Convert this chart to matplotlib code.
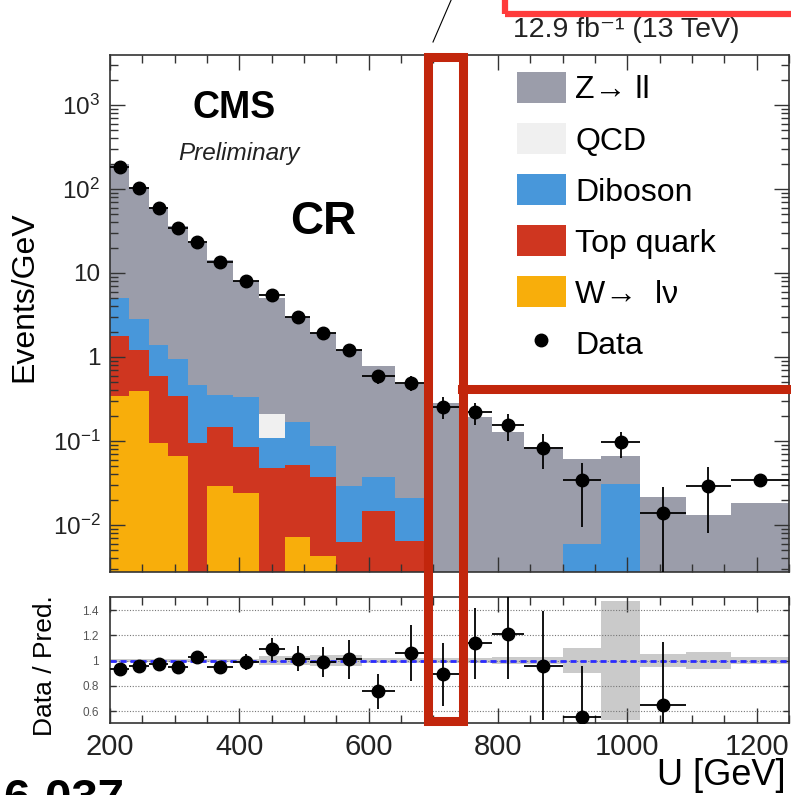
import numpy as np
import matplotlib
matplotlib.use('Agg')
import matplotlib.pyplot as plt
from matplotlib.patches import Rectangle, Patch
from matplotlib.lines import Line2D
from matplotlib.ticker import FixedLocator, FixedFormatter, LogLocator, NullFormatter, MultipleLocator

plt.rcParams['font.family'] = ['Liberation Sans', 'DejaVu Sans']
plt.rcParams['mathtext.fontset'] = 'custom'
plt.rcParams['mathtext.rm'] = 'Liberation Sans'
plt.rcParams['mathtext.it'] = 'Liberation Sans:italic'
plt.rcParams['mathtext.bf'] = 'Liberation Sans:bold'

# ---------------- data ----------------
bin_edges = [200, 230, 260, 290, 320, 350, 390, 430, 470, 510, 550, 590,
             640, 690, 740, 790, 840, 900, 960, 1020, 1090, 1160, 1250]

# process yields (Events/GeV), stacked bottom -> top
w_lnu   = [0.34, 0.39, 0.095, 0.066, 0.0, 0.029, 0.024, 0.0, 0.0072, 0.0043, 0.0,
           0.0, 0.0, 0.0, 0.0, 0.0, 0.0, 0.0, 0.0, 0.0, 0.0, 0.0]
top_q   = [1.44, 0.82, 0.495, 0.274, 0.095, 0.118, 0.061, 0.047, 0.0448, 0.0327, 0.0062,
           0.0148, 0.0065, 0.0, 0.0, 0.0, 0.0, 0.0, 0.0, 0.0, 0.0, 0.0]
diboson = [3.22, 1.62, 0.80, 0.61, 0.365, 0.203, 0.245, 0.062, 0.118, 0.05, 0.0228,
           0.0222, 0.0145, 0.0, 0.0, 0.0, 0.0, 0.006, 0.031, 0.0, 0.0, 0.0]
qcd     = [0.0, 0.0, 0.0, 0.0, 0.0, 0.0, 0.0, 0.101, 0.0, 0.0, 0.0,
           0.0, 0.0, 0.0, 0.0, 0.0, 0.0, 0.0, 0.0, 0.0, 0.0, 0.0]
z_ll    = [191.0, 103.2, 59.1, 34.85, 22.24, 13.85, 7.77, 4.84, 2.79, 1.863, 1.171,
           0.733, 0.449, 0.285, 0.194, 0.128, 0.085, 0.055, 0.035, 0.0215, 0.0132, 0.018]

data     = [182, 102, 59, 34, 23.4, 13.5, 8.0, 5.5, 3.0, 1.93, 1.21,
            0.59, 0.49, 0.255, 0.22, 0.155, 0.083, 0.034, 0.097, 0.014, 0.029, 0.034]
data_elo = [2.5, 1.8, 1.4, 1.06, 0.88, 0.58, 0.45, 0.37, 0.27, 0.22, 0.17,
            0.11, 0.10, 0.072, 0.066, 0.056, 0.037, 0.0245, 0.035, 0.0139, 0.021, 0.0]
data_ehi = [2.5, 1.8, 1.4, 1.06, 0.88, 0.58, 0.45, 0.37, 0.27, 0.22, 0.17,
            0.11, 0.10, 0.079, 0.066, 0.056, 0.037, 0.021, 0.03, 0.014, 0.02, 0.0]

ratio     = [0.93, 0.96, 0.975, 0.95, 1.03, 0.95, 0.99, 1.09, 1.015, 0.99, 1.01,
             0.755, 1.06, 0.89, 1.135, 1.21, 0.96, 0.555, np.nan, 0.65, np.nan, np.nan]
ratio_err = [0.015, 0.017, 0.02, 0.03, 0.035, 0.035, 0.065, 0.09, 0.1, 0.12, 0.155,
             0.14, 0.22, 0.25, 0.28, 0.36, 0.43, 0.4, np.nan, 0.5, np.nan, np.nan]
band_unc  = [0.01, 0.01, 0.01, 0.01, 0.012, 0.012, 0.015, 0.035, 0.035, 0.04, 0.04,
             0.02, 0.02, 0.02, 0.02, 0.03, 0.03, 0.1, 0.47, 0.05, 0.065, 0.03]

process_labels = ['W\u2192  l\u03bd', 'Top quark', 'Diboson', 'QCD', 'Z\u2192 ll']
process_colors = ['#f8ae0b', '#cf3620', '#4897da', '#f0f0f0', '#9b9daa']

main_yticks = [1e-2, 1e-1, 1, 10, 1e2, 1e3]
main_yticklabels = ['$10^{-2}$', '$10^{-1}$', '1', '10', '$10^{2}$', '$10^{3}$']
ratio_yticks = [0.6, 0.8, 1.0, 1.2, 1.4]
ratio_yticklabels = ['0.6', '0.8', '1', '1.2', '1.4']
xticks = [200, 400, 600, 800, 1000, 1200]

# ---------------- layout ----------------
W, H = 791, 795
fig = plt.figure(figsize=(W / 100, H / 100), dpi=100)

def fx(x):
    return x / W

def fy(y):
    return 1 - y / H

L, R = 110, 789
ax = fig.add_axes([fx(L), fy(572), (R - L) / W, (572 - 55) / H])
ax2 = fig.add_axes([fx(L), fy(723), (R - L) / W, (723 - 597) / H])

edges = np.array(bin_edges, dtype=float)
centers = 0.5 * (edges[1:] + edges[:-1])
halfw = 0.5 * (edges[1:] - edges[:-1])

ax.set_yscale('log')
comps = [np.array(c, dtype=float) for c in (w_lnu, top_q, diboson, qcd, z_ll)]
base = np.zeros(len(centers))
for comp, col in zip(comps, process_colors):
    top = base + comp
    ax.stairs(top, edges, baseline=base.copy(), fill=True, color=col, lw=0)
    base = top

ax.errorbar(centers, data, xerr=halfw, yerr=[data_elo, data_ehi], fmt='o',
            color='black', ms=9, elinewidth=1.3, capsize=0, zorder=5)

ax.set_xlim(200, 1250)
ax.set_ylim(0.00275, 3940)
ax.yaxis.set_major_locator(FixedLocator(main_yticks))
ax.yaxis.set_major_formatter(FixedFormatter(main_yticklabels))
ax.yaxis.set_minor_locator(LogLocator(base=10, subs=np.arange(2, 10), numticks=20))
ax.yaxis.set_minor_formatter(NullFormatter())
ax.xaxis.set_major_locator(FixedLocator(xticks))
ax.xaxis.set_minor_locator(MultipleLocator(50))
ax.tick_params(which='both', direction='in', top=True, right=True, labelbottom=False,
               width=1.0, colors='#333333', labelcolor='#222222')
ax.tick_params(which='major', length=10.5, labelsize=17.5, pad=7)
ax.tick_params(which='minor', length=5.5)
for s in ax.spines.values():
    s.set_linewidth(1.2)
    s.set_color('#333333')

ax.set_ylabel('Events/GeV', fontsize=23, va='center')
ax.yaxis.set_label_coords((24 - L) / (R - L), (572 - 297) / (572 - 55))

# legend
handles = [Patch(facecolor=process_colors[4], edgecolor='none'),
           Patch(facecolor=process_colors[3], edgecolor='none'),
           Patch(facecolor=process_colors[2], edgecolor='none'),
           Patch(facecolor=process_colors[1], edgecolor='none'),
           Patch(facecolor=process_colors[0], edgecolor='none'),
           Line2D([], [], marker='o', color='black', ls='none', ms=9)]
labels = [process_labels[4], process_labels[3], process_labels[2],
          process_labels[1], process_labels[0], 'Data']
leg = ax.legend(handles, labels, loc='upper left',
                bbox_to_anchor=(fx(517), fy(72)), bbox_transform=fig.transFigure,
                frameon=False, fontsize=23, borderpad=0, borderaxespad=0,
                handlelength=1.53, handleheight=1.13, handletextpad=0.3,
                labelspacing=0.55)

# texts in main panel
fig.text(fx(193), fy(118), 'CMS', fontsize=27, fontweight='bold', va='baseline')
fig.text(fx(178), fy(160), 'Preliminary', fontsize=17.5, style='italic', va='baseline',
         color='#222222')
fig.text(fx(290), fy(234), 'CR', fontsize=33, fontweight='bold', va='baseline')
fig.text(fx(513), fy(37), '12.9 fb\u207b\u00b9 (13 TeV)', fontsize=20.5, va='baseline',
         color='#222222', family=['Liberation Sans', 'DejaVu Sans'])

# ---------------- ratio panel ----------------
unc = np.array(band_unc)
ax2.stairs(1 + unc, edges, baseline=1 - unc, fill=True, color='#cacaca', lw=0, zorder=1)
ax2.axhline(1.0, color='#2b2bff', ls=(0, (2.2, 1.4)), lw=2.0, zorder=2)
ax2.errorbar(centers, ratio, xerr=halfw, yerr=ratio_err, fmt='o', color='black',
             ms=9, elinewidth=1.3, capsize=0, zorder=5)
ax2.set_xlim(200, 1250)
ax2.set_ylim(0.505, 1.503)
ax2.yaxis.set_major_locator(FixedLocator(ratio_yticks))
ax2.yaxis.set_major_formatter(FixedFormatter(ratio_yticklabels))
ax2.xaxis.set_major_locator(FixedLocator(xticks))
ax2.xaxis.set_minor_locator(MultipleLocator(50))
ax2.yaxis.grid(True, linestyle=(0, (1, 1.5)), color='#777777', lw=0.8, zorder=0)
ax2.tick_params(which='both', direction='in', top=True, right=True, width=1.0,
                colors='#333333', labelcolor='#222222')
ax2.tick_params(axis='x', which='major', length=11, labelsize=21, pad=7)
ax2.tick_params(axis='x', which='minor', length=6)
ax2.tick_params(axis='y', which='major', length=4, labelsize=8.5, pad=8, labelcolor='#555555')
for s in ax2.spines.values():
    s.set_linewidth(1.2)
    s.set_color('#333333')

ax2.set_ylabel('Data / Pred.', fontsize=19, va='center')
ax2.yaxis.set_label_coords((45 - L) / (R - L), (723 - 666) / (723 - 597))
ax2.set_xlabel('U [GeV]', fontsize=26, ha='right', va='baseline')
ax2.xaxis.set_label_coords((786 - L) / (R - L), (723 - 785) / (723 - 597))

# ---------------- annotations ----------------
fig.text(fx(3), fy(812), '6-037', fontsize=34, fontweight='bold', va='baseline')

dark_red = '#c2260c'
fig.add_artist(Rectangle((fx(428), fy(721)), (462.5 - 428) / W, (721 - 57) / H,
                         transform=fig.transFigure, fill=False, ec=dark_red,
                         lw=6.5, zorder=10))
fig.add_artist(Line2D([fx(462), fx(795)], [fy(388.5), fy(388.5)],
                      transform=fig.transFigure, color=dark_red, lw=6.5, zorder=10))
fig.add_artist(Rectangle((fx(505), fy(13.5)), (900 - 505) / W, 60 / H,
                         transform=fig.transFigure, fill=False, ec='#ff3b3b',
                         lw=4.5, zorder=10))
fig.add_artist(Line2D([fx(433), fx(452)], [fy(42), fy(-2)],
                      transform=fig.transFigure, color='black', lw=0.8, zorder=10))

fig.savefig('out.png', dpi=100)
